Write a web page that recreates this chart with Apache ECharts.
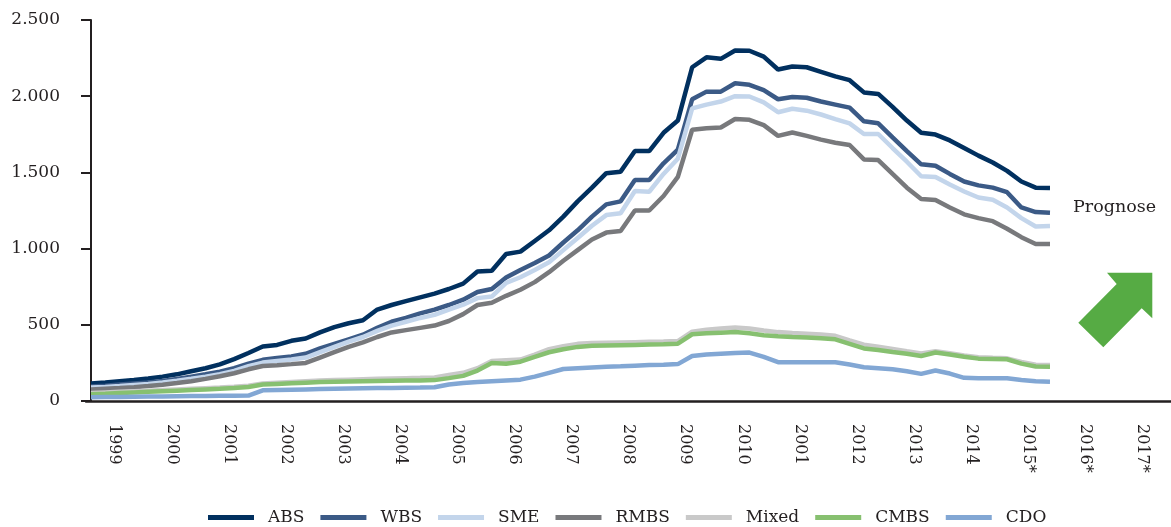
<!DOCTYPE html>
<html>
<head>
<meta charset="utf-8">
<script src="https://cdn.jsdelivr.net/npm/echarts@6/dist/echarts.min.js"></script>
<style>
  html, body { margin: 0; padding: 0; background: #fff; }
  #main { width: 1171px; height: 527px; }
</style>
</head>
<body>
<div id="main"></div>
<script>
// Jahre (Achsenbeschriftung wie im Original, inkl. "2001" an Stelle von 2011)
var yearLabels = ['1999','2000','2001','2002','2003','2004','2005','2006','2007','2008',
                  '2009','2010','2001','2012','2013','2014','2015*','2016*','2017*'];
var dataYears = [1999,2000,2001,2002,2003,2004,2005,2006,2007,2008,2009,2010,2011,2012,2013,2014,2015];
var quarterNames = ['Q1','Q2','Q3','Q4'];

// Quartalswerte 1999 Q1 - 2015 Q4
var abs   = [115,122,130,138,148,160,175,195,215,240,275,315, 358,368,395,410,450,485,510,530, 600,630,655,680,705,735,770,850, 855,965,980,1050,1120,1210,1310,1400, 1495,1505,1640,1640,1760,1840,2190,2255, 2245,2300,2298,2260,2175,2195,2190,2160, 2130,2105,2025,2015,1930,1840,1760,1748, 1710,1660,1610,1565,1510,1440,1400,1398];
var wbs   = [95,100,108,115,122,132,145,160,175,192,215,245, 270,282,292,310,345,375,405,435, 480,520,545,575,600,630,665,715, 735,810,860,905,955,1040,1120,1210, 1290,1310,1450,1450,1560,1650,1980,2030, 2030,2085,2075,2040,1980,1995,1990,1965, 1945,1925,1835,1822,1730,1640,1553,1544, 1490,1440,1415,1400,1370,1270,1240,1236];
var sme   = [88,92,98,105,112,122,133,146,160,176,198,228, 252,262,272,285,320,355,390,420, 460,495,520,545,565,600,632,675, 685,775,812,860,910,990,1070,1150, 1220,1232,1378,1373,1490,1590,1920,1945, 1965,2000,1998,1960,1895,1918,1905,1880, 1850,1822,1752,1752,1660,1570,1475,1470, 1420,1375,1335,1320,1270,1200,1145,1148];
var rmbs  = [75,80,85,91,98,107,118,130,145,162,182,208, 230,235,242,250,285,320,355,385, 420,450,465,480,495,525,570,630, 645,690,730,780,845,920,990,1060, 1105,1115,1250,1250,1345,1470,1780,1790, 1795,1850,1845,1810,1740,1762,1740,1715, 1695,1680,1585,1581,1490,1400,1325,1319, 1270,1225,1200,1180,1130,1075,1030,1030];
var mixed = [52,56,60,64,68,72,76,80,84,88,93,100, 115,120,125,130,134,137,140,143, 146,148,150,152,155,170,185,215, 262,268,272,305,340,360,375,380, 382,384,386,388,390,393,455,468, 476,482,476,462,452,446,441,436, 428,398,370,356,341,326,312,326, 313,299,287,283,280,256,238,236];
var cmbs  = [45,48,52,56,60,64,68,72,76,80,85,92, 108,112,116,120,124,126,128,130, 132,133,134,135,137,150,165,200, 250,245,258,290,320,340,355,362, 364,366,368,370,372,376,438,444, 448,452,445,432,425,420,416,412, 405,375,345,335,322,310,295,318, 305,290,278,276,274,245,226,225];
var cdo   = [25,26,27,28,29,30,31,32,33,34,35,36, 70,72,74,76,78,80,82,84, 85,86,87,88,90,108,118,125, 130,135,140,160,185,210,215,220, 225,228,232,236,238,242,295,305, 310,315,318,290,255,254,254,254, 254,240,222,215,208,195,178,200, 180,152,150,150,149,138,130,127];

var seriesNames  = ['ABS','WBS','SME','RMBS','Mixed','CMBS','CDO'];
var seriesData   = [abs, wbs, sme, rmbs, mixed, cmbs, cdo];
var seriesColors = ['#01305f','#3b5a86','#c3d5eb','#78797c','#c9c9c9','#87c070','#82a7d4'];

var quarters = [];
for (var y = 0; y < dataYears.length; y++) {
  for (var q = 0; q < 4; q++) quarters.push(dataYears[y] + ' ' + quarterNames[q]);
}

var FONT = '"DejaVu Serif", serif';
var INK = '#231f20';

function thousands(v) {
  return String(v).replace(/\B(?=(\d{3})+(?!\d))/g, '.');
}

var series = [];
for (var i = 0; i < seriesNames.length; i++) {
  series.push({
    name: seriesNames[i],
    type: 'line',
    xAxisIndex: 0,
    yAxisIndex: 0,
    data: seriesData[i],
    symbol: 'none',
    color: seriesColors[i],
    lineStyle: { width: 4.5, color: seriesColors[i] },
    emphasis: { disabled: true }
  });
}

var myChart = echarts.init(document.getElementById('main'));
var option = {
  animation: false,
  backgroundColor: '#fff',
  grid: [
    { left: 91, right: 121, top: 20, bottom: 126 },
    { left: 86, right: -5, top: 20, bottom: 126 }
  ],
  xAxis: [
    {
      type: 'category', gridIndex: 0, data: quarters, boundaryGap: false,
      axisLine: { show: false }, axisTick: { show: false }, axisLabel: { show: false },
      splitLine: { show: false }
    },
    {
      type: 'category', gridIndex: 1, data: yearLabels, boundaryGap: true,
      axisLine: { show: true, lineStyle: { color: INK, width: 2.5 } },
      axisTick: { show: false },
      axisLabel: { rotate: -90, margin: 23, interval: 0, color: INK, fontFamily: FONT, fontSize: 16 },
      splitLine: { show: false }
    }
  ],
  yAxis: [
    {
      type: 'value', gridIndex: 0, min: 0, max: 2500, interval: 500,
      axisLine: { show: true, lineStyle: { color: INK, width: 2 } },
      axisTick: { show: true, inside: false, length: 10, lineStyle: { color: INK, width: 2 } },
      axisLabel: { margin: 31, color: INK, fontFamily: FONT, fontSize: 17, formatter: thousands },
      splitLine: { show: false }
    },
    {
      type: 'value', gridIndex: 1, min: 0, max: 2500, show: false
    }
  ],
  legend: {
    data: seriesNames,
    left: 203,
    top: 504,
    icon: 'rect',
    itemWidth: 46,
    itemHeight: 5,
    itemGap: 16,
    textStyle: { color: INK, fontFamily: FONT, fontSize: 17, padding: [0, 0, 0, 9] }
  },
  graphic: [
    {
      type: 'text',
      left: 1073,
      top: 198,
      style: { text: 'Prognose', fill: INK, font: '17.5px "DejaVu Serif", serif' }
    },
    {
      type: 'polygon',
      shape: {
        points: [[1107, 272.7], [1152.3, 272.7], [1152.3, 318.3], [1141.7, 308.3],
                 [1103.3, 347.3], [1078.3, 322.7], [1116.7, 284]]
      },
      style: { fill: '#56ab44' }
    }
  ],
  series: series
};
myChart.setOption(option);
</script>
</body>
</html>
